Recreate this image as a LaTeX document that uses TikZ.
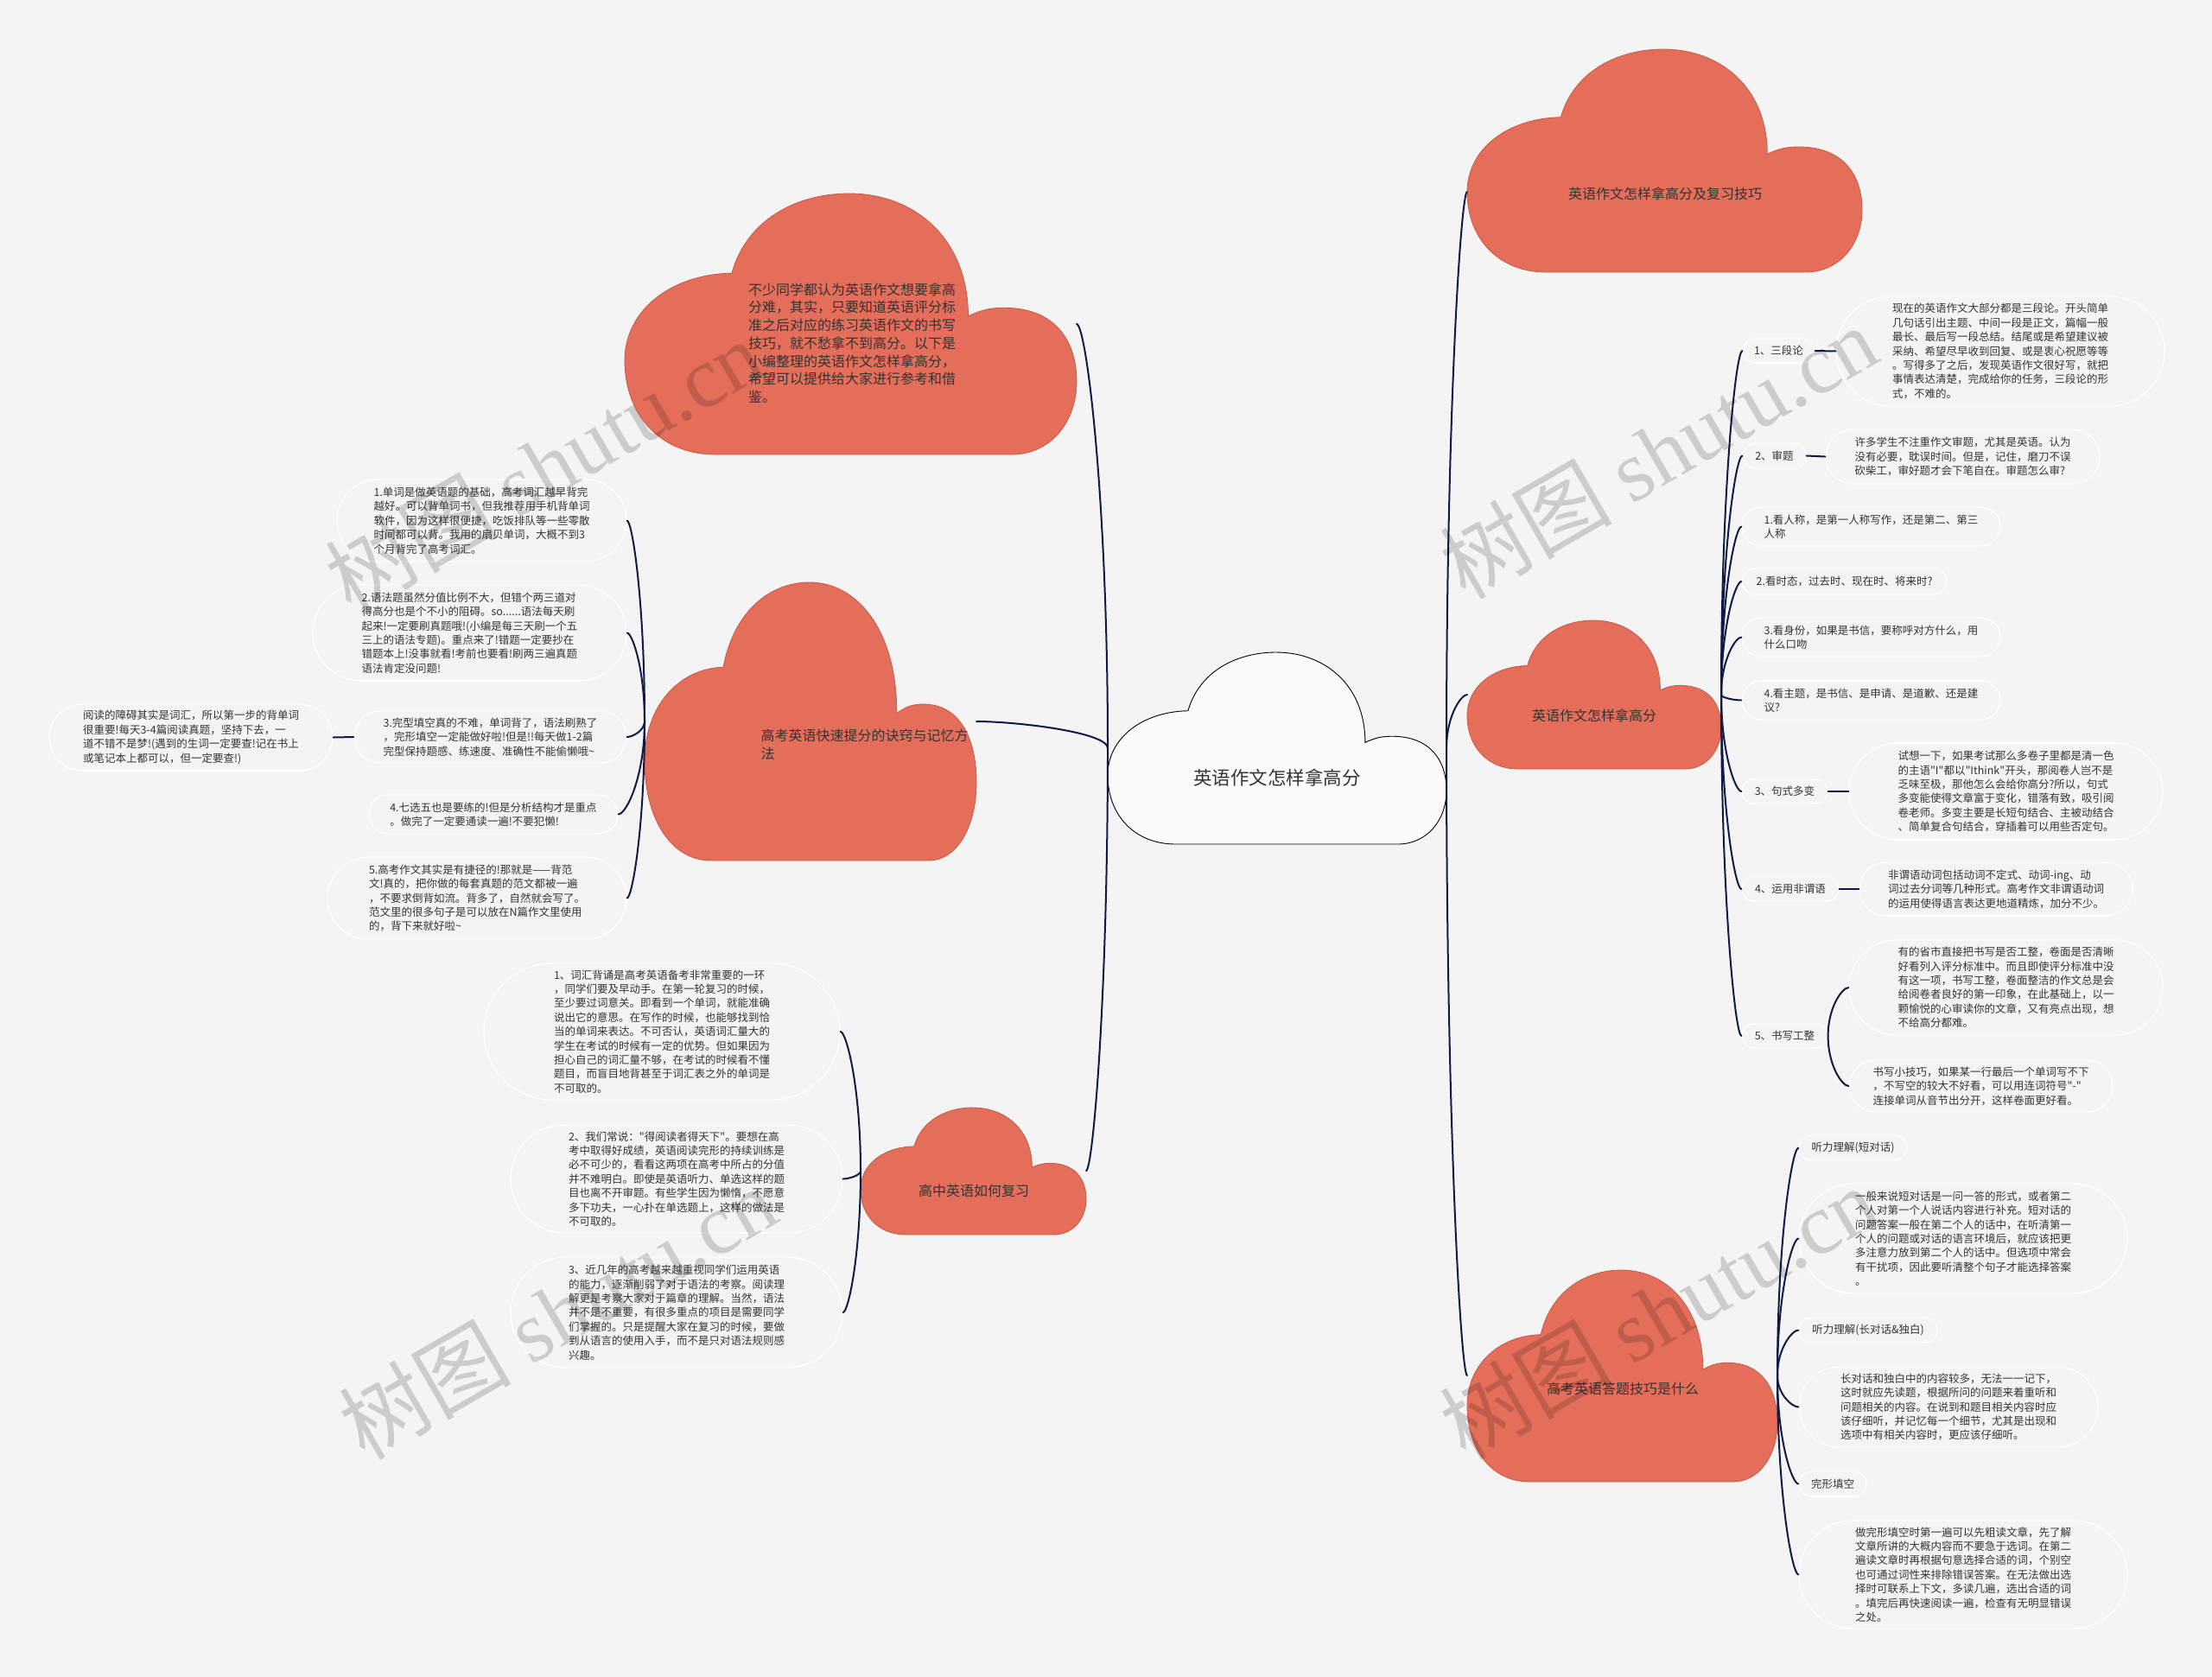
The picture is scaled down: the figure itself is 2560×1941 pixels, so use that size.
\documentclass[tikz,border=0pt]{standalone}
\usepackage{fontspec}
\setmainfont{Noto Sans CJK SC}
\newfontfamily\qfont{Noto Sans CJK SC}
\newfontfamily\wmserif{Liberation Serif}
\usetikzlibrary{shapes.misc,calc}
\definecolor{bg}{HTML}{F4F4F4}
\definecolor{org}{HTML}{E46E5A}
\definecolor{orgdk}{HTML}{C85A47}
\definecolor{navy}{HTML}{101A45}
\definecolor{txt}{HTML}{333333}
\newcommand{\sq}{{\qfont\char34}}
\newcommand{\cloudshape}[5]{%
 \path[#5, shift={(#1,#2)}, xscale=#3, yscale=#4]
 (0.2,1) .. controls (0.08,1) and (0,0.85) .. (0,0.64)
 .. controls (0,0.45) and (0.1,0.31) .. (0.237,0.305)
 .. controls (0.27,0.1) and (0.38,0) .. (0.497,0)
 .. controls (0.64,0) and (0.76,0.17) .. (0.76,0.47)
 .. controls (0.79,0.445) and (0.81,0.438) .. (0.84,0.438)
 .. controls (0.95,0.438) and (1,0.56) .. (1,0.72)
 .. controls (1,0.88) and (0.94,1) .. (0.857,1) -- cycle;}
\newcommand{\myconn}[2]{\draw[conn] (#1) .. controls ($(#1)!0.6!(#1|-#2)$) and ($(#2)!0.3!(#1|-#2)$) .. (#2);}
\tikzset{
 leaf/.style={rounded rectangle, draw=white, line width=1.2pt, fill=bg, inner sep=0pt,
   font=\fontsize{12.5}{16.4}\selectfont, text=txt, align=left},
 conn/.style={draw=navy, line width=2pt, line cap=round},
 orgcloud/.style={fill=org, draw=orgdk, line width=0.8pt},
 cltext/.style={font=\fontsize{16}{20.7}\selectfont, text=txt, align=left},
 wm/.style={font=\fontsize{100}{100}\selectfont, text=black, text opacity=0.16}
}
\begin{document}
\begin{tikzpicture}[x=1pt,y=-1pt]
\fill[bg] (0,0) rectangle (2560,1941);
\useasboundingbox (0,0) rectangle (2560,1941);

% clouds
\cloudshape{1282}{755}{392}{222}{fill=white!60!bg, draw=black, line width=0.9pt}
\cloudshape{723}{224}{523}{302}{orgcloud}
\cloudshape{746}{674}{384}{322}{orgcloud}
\cloudshape{996}{1282}{261}{147}{orgcloud}
\cloudshape{1698}{57}{457}{258}{orgcloud}
\cloudshape{1698}{718}{294}{172}{orgcloud}
\cloudshape{1698}{1470}{359}{245}{orgcloud}

% cloud anchor coordinates
\coordinate (cc-w) at (1282,866);
\coordinate (cc-e) at (1674,866);
\coordinate (tl-e) at (1246,375);
\coordinate (lc-e) at (1130,835);
\coordinate (lc-w) at (746,835);
\coordinate (bl-e) at (1257,1355);
\coordinate (bl-w) at (996,1355);
\coordinate (tr-w) at (1698,222);
\coordinate (rc-w) at (1698,804);
\coordinate (rc-e) at (1992,804);
\coordinate (br-w) at (1698,1592);
\coordinate (br-e) at (2057,1592);

% cloud labels
\node[font=\fontsize{21.5}{26}\selectfont, text=txt] (center) at (1478,900) {英语作文怎样拿高分};
\node[cltext] (tlt) at (986,397) {不少同学都认为英语作文想要拿高\\分难，其实，只要知道英语评分标\\准之后对应的练习英语作文的书写\\技巧，就不愁拿不到高分。以下是\\小编整理的英语作文怎样拿高分，\\希望可以提供给大家进行参考和借\\鉴。};
\node[cltext, anchor=west] (lct) at (877,862) {高考英语快速提分的诀窍与记忆方\\法};
\node[cltext] (blt) at (1127,1378) {高中英语如何复习};
\node[cltext] (trt) at (1927,224) {英语作文怎样拿高分及复习技巧};
\node[cltext] (rct) at (1845,828) {英语作文怎样拿高分};
\node[cltext] (brt) at (1878,1607) {高考英语答题技巧是什么};

% left leaves
\node[leaf, minimum width=335pt, minimum height=95pt] (L1) at (557.5,602.5) {1.单词是做英语题的基础，高考词汇越早背完\\越好。可以背单词书，但我推荐用手机背单词\\软件，因为这样很便捷，吃饭排队等一些零散\\时间都可以背。我用的扇贝单词，大概不到3\\个月背完了高考词汇。};
\node[leaf, minimum width=363pt, minimum height=111pt] (L2) at (543.5,732.5) {2.语法题虽然分值比例不大，但错个两三道对\\得高分也是个不小的阻碍。so......语法每天刷\\起来!一定要刷真题哦!(小编是每三天刷一个五\\三上的语法专题)。重点来了!错题一定要抄在\\错题本上!没事就看!考前也要看!刷两三遍真题\\语法肯定没问题!};
\node[leaf, minimum width=315pt, minimum height=60pt] (L3) at (567.5,853) {3.完型填空真的不难，单词背了，语法刷熟了\\，完形填空一定能做好啦!但是!!每天做1-2篇\\完型保持题感、练速度、准确性不能偷懒哦\textasciitilde};
\node[leaf, minimum width=288pt, minimum height=45pt] (L4) at (571,942.5) {4.七选五也是要练的!但是分析结构才是重点\\。做完了一定要通读一遍!不要犯懒!};
\node[leaf, minimum width=346pt, minimum height=95pt] (L5) at (552,1039.5) {5.高考作文其实是有捷径的!那就是——背范\\文!真的，把你做的每套真题的范文都被一遍\\，不要求倒背如流。背多了，自然就会写了。\\范文里的很多句子是可以放在N篇作文里使用\\的，背下来就好啦\textasciitilde};
\node[leaf, minimum width=328pt, minimum height=77pt] (L3a) at (221,853.5) {阅读的障碍其实是词汇，所以第一步的背单词\\很重要!每天3-4篇阅读真题，坚持下去，一\\道不错不是梦!(遇到的生词一定要查!记在书上\\或笔记本上都可以，但一定要查!)};

% bottom-left leaves
\node[leaf, minimum width=412pt, minimum height=158pt] (B1) at (766,1194) {1、词汇背诵是高考英语备考非常重要的一环\\，同学们要及早动手。在第一轮复习的时候，\\至少要过词意关。即看到一个单词，就能准确\\说出它的意思。在写作的时候，也能够找到恰\\当的单词来表达。不可否认，英语词汇量大的\\学生在考试的时候有一定的优势。但如果因为\\担心自己的词汇量不够，在考试的时候看不懂\\题目，而盲目地背甚至于词汇表之外的单词是\\不可取的。};
\node[leaf, minimum width=384pt, minimum height=125pt] (B2) at (783,1364.5) {2、我们常说：\sq 得阅读者得天下\sq 。要想在高\\考中取得好成绩，英语阅读完形的持续训练是\\必不可少的，看看这两项在高考中所占的分值\\并不难明白。即使是英语听力、单选这样的题\\目也离不开审题。有些学生因为懒惰，不愿意\\多下功夫，一心扑在单选题上，这样的做法是\\不可取的。};
\node[leaf, minimum width=384pt, minimum height=128pt] (B3) at (783,1519) {3、近几年的高考越来越重视同学们运用英语\\的能力，逐渐削弱了对于语法的考察。阅读理\\解更是考察大家对于篇章的理解。当然，语法\\并不是不重要，有很多重点的项目是需要同学\\们掌握的。只是提醒大家在复习的时候，要做\\到从语言的使用入手，而不是只对语法规则感\\兴趣。};

% right leaves
\node[leaf, minimum width=83pt, minimum height=28pt] (R1) at (2058.5,406) {1、三段论};
\node[leaf, minimum width=380pt, minimum height=127pt] (R1d) at (2315,406.5) {现在的英语作文大部分都是三段论。开头简单\\几句话引出主题、中间一段是正文，篇幅一般\\最长、最后写一段总结。结尾或是希望建议被\\采纳、希望尽早收到回复、或是衷心祝愿等等\\。写得多了之后，发现英语作文很好写，就把\\事情表达清楚，完成给你的任务，三段论的形\\式，不难的。};
\node[leaf, minimum width=73pt, minimum height=29pt] (R2) at (2053.5,527.5) {2、审题};
\node[leaf, minimum width=317pt, minimum height=63pt] (R2d) at (2271.5,528.5) {许多学生不注重作文审题，尤其是英语。认为\\没有必要，耽误时间。但是，记住，磨刀不误\\砍柴工，审好题才会下笔自在。审题怎么审?};
\node[leaf, minimum width=299pt, minimum height=45pt] (R3) at (2165.5,609.5) {1.看人称，是第一人称写作，还是第二、第三\\人称};
\node[leaf, minimum width=237pt, minimum height=30pt] (R4) at (2134.5,673) {2.看时态，过去时、现在时、将来时?};
\node[leaf, minimum width=299pt, minimum height=45pt] (R5) at (2165.5,737.5) {3.看身份，如果是书信，要称呼对方什么，用\\什么口吻};
\node[leaf, minimum width=299pt, minimum height=45pt] (R6) at (2165.5,810.5) {4.看主题，是书信、是申请、是道歉、还是建\\议?};
\node[leaf, minimum width=99pt, minimum height=28pt] (R7) at (2065.5,916) {3、句式多变};
\node[leaf, minimum width=363pt, minimum height=112pt] (R7d) at (2321.5,916) {试想一下，如果考试那么多卷子里都是清一色\\的主语\sq I\sq 都以\sq Ithink\sq 开头，那阅卷人岂不是\\乏味至极，那他怎么会给你高分?所以，句式\\多变能使得文章富于变化，错落有致，吸引阅\\卷老师。多变主要是长短句结合、主被动结合\\、简单复合句结合，穿插着可以用些否定句。};
\node[leaf, minimum width=112pt, minimum height=28pt] (R8) at (2072,1029) {4、运用非谓语};
\node[leaf, minimum width=316pt, minimum height=62pt] (R8d) at (2310,1029) {非谓语动词包括动词不定式、动词-ing、动\\词过去分词等几种形式。高考作文非谓语动词\\的运用使得语言表达更地道精炼，加分不少。};
\node[leaf, minimum width=99pt, minimum height=28pt] (R9) at (2065.5,1199) {5、书写工整};
\node[leaf, minimum width=363pt, minimum height=110pt] (R9a) at (2321.5,1143) {有的省市直接把书写是否工整，卷面是否清晰\\好看列入评分标准中。而且即使评分标准中没\\有这一项，书写工整，卷面整洁的作文总是会\\给阅卷者良好的第一印象，在此基础上，以一\\颗愉悦的心审读你的文章，又有亮点出现，想\\不给高分都难。};
\node[leaf, minimum width=305pt, minimum height=60pt] (R9b) at (2292.5,1257) {书写小技巧，如果某一行最后一个单词写不下\\，不写空的较大不好看，可以用连词符号\sq -\sq \\连接单词从音节出分开，这样卷面更好看。};

% bottom-right leaves
\node[leaf, minimum width=125pt, minimum height=29pt] (S1) at (2144.5,1328.5) {听力理解(短对话)};
\node[leaf, minimum width=380pt, minimum height=127pt] (S1d) at (2272,1433.5) {一般来说短对话是一问一答的形式，或者第二\\个人对第一个人说话内容进行补充。短对话的\\问题答案一般在第二个人的话中，在听清第一\\个人的问题或对话的语言环境后，就应该把更\\多注意力放到第二个人的话中。但选项中常会\\有干扰项，因此要听清整个句子才能选择答案\\。};
\node[leaf, minimum width=160pt, minimum height=29pt] (S2) at (2162,1539.5) {听力理解(长对话\&独白)};
\node[leaf, minimum width=346pt, minimum height=93pt] (S2d) at (2255,1628.5) {长对话和独白中的内容较多，无法一一记下，\\这时就应先读题，根据所问的问题来着重听和\\问题相关的内容。在说到和题目相关内容时应\\该仔细听，并记忆每一个细节，尤其是出现和\\选项中有相关内容时，更应该仔细听。};
\node[leaf, minimum width=78pt, minimum height=29pt] (S3) at (2121,1717.5) {完形填空};
\node[leaf, minimum width=380pt, minimum height=125pt] (S3d) at (2272,1822.5) {做完形填空时第一遍可以先粗读文章，先了解\\文章所讲的大概内容而不要急于选词。在第二\\遍读文章时再根据句意选择合适的词，个别空\\也可通过词性来排除错误答案。在无法做出选\\择时可联系上下文，多读几遍，选出合适的词\\。填完后再快速阅读一遍，检查有无明显错误\\之处。};

% connectors
\myconn{cc-w}{tl-e}
\myconn{cc-w}{lc-e}
\myconn{cc-w}{bl-e}
\myconn{cc-e}{tr-w}
\myconn{cc-e}{rc-w}
\myconn{cc-e}{br-w}
\foreach \n in {L1,L2,L3,L4,L5} {\myconn{lc-w}{\n.east}}
\draw[conn] (L3.west) -- (L3a.east);
\foreach \n in {B1,B2,B3} {\myconn{bl-w}{\n.east}}
\foreach \n in {R1,R2,R3,R4,R5,R6,R7,R8,R9} {\myconn{rc-e}{\n.west}}
\draw[conn] (R1.east) -- (R1d.west);
\draw[conn] (R2.east) -- (R2d.west);
\draw[conn] (R7.east) -- (R7d.west);
\draw[conn] (R8.east) -- (R8d.west);
\myconn{R9.east}{R9a.west}
\myconn{R9.east}{R9b.west}
\foreach \n in {S1,S1d,S2,S2d,S3,S3d} {\myconn{br-e}{\n.west}}

% watermarks
\node[wm, rotate=30] (wm1) at (629,539) {树图 {\wmserif shutu.cn}};
\node[wm, rotate=30] (wm2) at (1919,523) {树图 {\wmserif shutu.cn}};
\node[wm, rotate=30] (wm3) at (645,1519) {树图 {\wmserif shutu.cn}};
\node[wm, rotate=30] (wm4) at (1919,1519) {树图 {\wmserif shutu.cn}};
\end{tikzpicture}
\end{document}
